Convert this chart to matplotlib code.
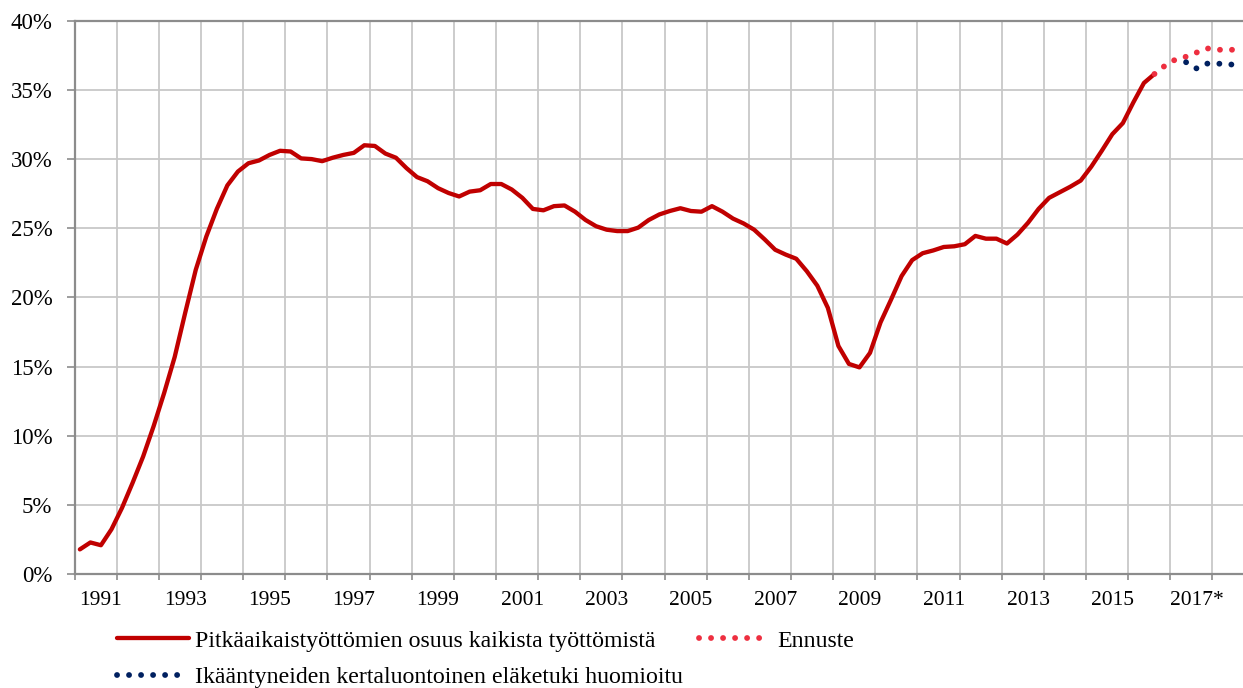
import matplotlib
matplotlib.use("Agg")
import matplotlib.pyplot as plt
import numpy as np

# Quarterly share of long-term unemployed (%), first point = quarter 0
share = [1.8, 2.3, 2.1, 3.25, 4.8, 6.6, 8.5, 10.7, 13.1, 15.7,
         18.9, 22.0, 24.4, 26.4, 28.1, 29.1, 29.7, 29.9, 30.3, 30.6,
         30.55, 30.05, 30.0, 29.85, 30.1, 30.3, 30.45, 31.0, 30.95, 30.4,
         30.1, 29.35, 28.7, 28.4, 27.9, 27.55, 27.3, 27.65, 27.75, 28.2,
         28.2, 27.8, 27.2, 26.4, 26.3, 26.6, 26.65, 26.2, 25.6, 25.15,
         24.9, 24.8, 24.8, 25.05, 25.6, 26.0, 26.25, 26.45, 26.25, 26.2,
         26.6, 26.2, 25.7, 25.35, 24.9, 24.2, 23.45, 23.1, 22.8, 21.9,
         20.85, 19.25, 16.5, 15.2, 14.95, 16.0, 18.2, 19.85, 21.55, 22.7,
         23.2, 23.4, 23.65, 23.7, 23.85, 24.45, 24.25, 24.25, 23.9, 24.55,
         25.4, 26.4, 27.2, 27.6, 28.0, 28.45, 29.45, 30.6, 31.8, 32.6,
         34.1, 35.5, 36.15]

# Forecast, starts at last actual quarter
forecast_start = 102
forecast = [36.15, 36.75, 37.2, 37.4, 37.7, 38.0, 37.9, 37.9, 37.9]

# Forecast with one-off pension support taken into account
pension_start = 105
pension = [37.0, 36.55, 36.9, 36.9, 36.85, 36.8]

n_quarters = 111
year_labels = ["1991", "1993", "1995", "1997", "1999", "2001", "2003",
               "2005", "2007", "2009", "2011", "2013", "2015", "2017*"]

label_main = "Pitkäaikaistyöttömien osuus kaikista työttömistä"
label_forecast = "Ennuste"
label_pension = "Ikääntyneiden kertaluontoinen eläketuki huomioitu"

plt.rcParams["font.family"] = ["Liberation Serif", "DejaVu Serif"]

fig = plt.figure(figsize=(12.43, 6.88), dpi=100)
ax = fig.add_axes([74.6 / 1243, 113.7 / 688, 1169.4 / 1243, 553.6 / 688])

x_main = np.arange(len(share)) + 0.5
x_fc = np.arange(len(forecast)) + forecast_start + 0.5
x_pen = np.arange(len(pension)) + pension_start + 0.5

dots = (0, (0.01, 2.05))
l_main, = ax.plot(x_main, share, color="#C00000", lw=3.1,
                  solid_capstyle="round", solid_joinstyle="round", zorder=3)
l_fc, = ax.plot(x_fc, forecast, color="#EE2F40", lw=4.2, linestyle=dots,
                dash_capstyle="round", zorder=4)
l_pen, = ax.plot(x_pen, pension, color="#002060", lw=4.2, linestyle=dots,
                 dash_capstyle="round", zorder=4)

ax.set_xlim(0, n_quarters)
ax.set_ylim(0, 40)

# axis ticks: marks every year, labels every second year
ax.set_xticks(np.arange(0, n_quarters, 4))
ax.set_xticklabels([])
ax.set_xticks(np.arange(len(year_labels)) * 8 + 2.5, minor=True)
ax.set_xticklabels(year_labels, minor=True)
ax.tick_params(axis="x", which="major", length=4.5, width=1.2, color="#8C8C8C")
ax.tick_params(axis="x", which="minor", length=0, pad=12, labelsize=15.5)

ax.set_yticks(np.arange(0, 41, 5))
ax.set_yticklabels([f"{v}%" for v in range(0, 41, 5)])
ax.tick_params(axis="y", length=6, width=1.2, color="#8C8C8C", pad=10,
               labelsize=16.5)

ax.grid(True, which="major", color="#C8C8C8", lw=1.3)
ax.set_axisbelow(True)

for side in ["left", "bottom", "top"]:
    ax.spines[side].set_color("#8C8C8C")
    ax.spines[side].set_linewidth(1.6)
ax.spines["right"].set_visible(False)

# legend below the plot
fig.legend([l_main, l_pen, l_fc], [label_main, label_pension, label_forecast],
           ncol=2, loc="upper left", bbox_to_anchor=(117 / 1243, 1 - 630 / 688),
           frameon=False, fontsize=17.2, handlelength=3.0, handletextpad=0.25,
           labelspacing=0.62, columnspacing=0.7, borderpad=0, borderaxespad=0)

fig.savefig("out.png", dpi=100)
